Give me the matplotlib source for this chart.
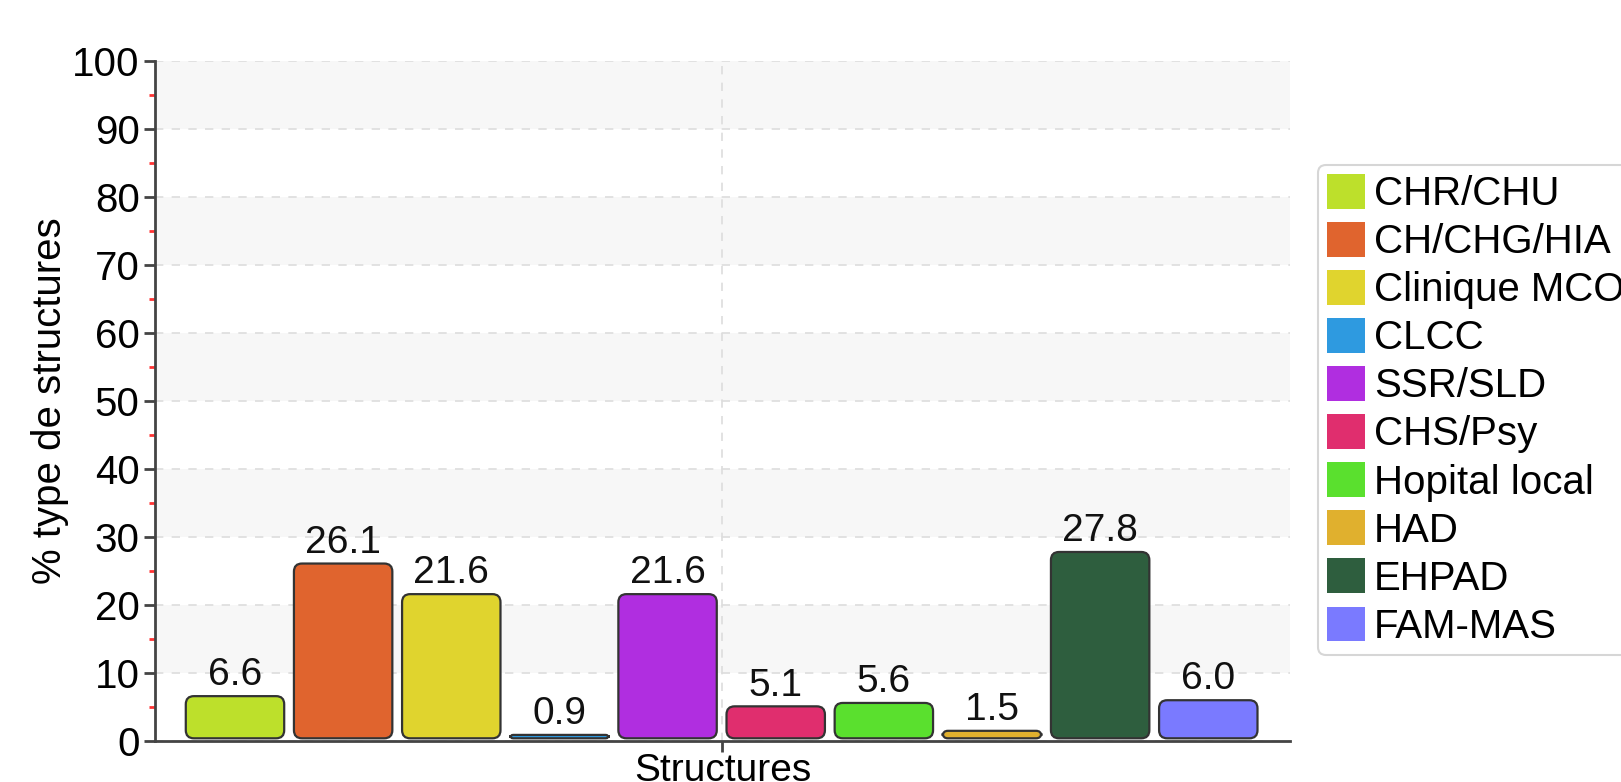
import numpy as np
import matplotlib
matplotlib.use("Agg")
import matplotlib.pyplot as plt
from matplotlib.patches import FancyBboxPatch, Patch
from matplotlib.ticker import MultipleLocator

categories = ["CHR/CHU", "CH/CHG/HIA", "Clinique MCO", "CLCC", "SSR/SLD",
              "CHS/Psy", "Hopital local", "HAD", "EHPAD", "FAM-MAS"]
values = [6.6, 26.1, 21.6, 0.9, 21.6, 5.1, 5.6, 1.5, 27.8, 6.0]
colors = ["#bde02b", "#e0642e", "#e0d42e", "#2e9ae0", "#b02ee0",
          "#e02e6e", "#5ae02e", "#e0b02e", "#2e5e3e", "#7a7aff"]

plt.rcParams['font.family'] = ['Liberation Sans', 'DejaVu Sans']

fig = plt.figure(figsize=(16.21, 7.82), dpi=100)
ax = fig.add_axes([0.0956, 0.0524, 0.7005, 0.8696])

ax.set_xlim(-0.74, 9.76)
ax.set_ylim(0, 100)

# bandes alternées
for lo in range(10, 100, 20):
    ax.axhspan(lo, lo + 10, color="#f7f7f7", zorder=0, lw=0)

ax.yaxis.set_major_locator(MultipleLocator(10))
ax.yaxis.set_minor_locator(MultipleLocator(5))
ax.set_xticks([4.5])
ax.set_xticklabels([])
ax.grid(True, which="major", color="#dddddd", ls=(0, (5, 5)), lw=1.2, zorder=1)

x = np.arange(len(values))
width = 0.93
bars = ax.bar(x, values, width=width, color=colors, alpha=0)

# coins arrondis : rapport px/unité entre x et y
fig.canvas.draw()
p0 = ax.transData.transform((0, 0))
p1 = ax.transData.transform((1, 1))
aspect = (p1[0] - p0[0]) / (p1[1] - p0[1])
for b, c in zip(bars, colors):
    bx, by, bw, bh = b.get_x(), b.get_y(), b.get_width(), b.get_height()
    r = min(0.075, bh / aspect / 2, bw / 2)
    patch = FancyBboxPatch((bx + 0.01, by + 0.4), bw - 0.02, max(bh - 0.4, 0.4),
                           boxstyle=f"round,pad=0,rounding_size={r}",
                           mutation_aspect=aspect, fc=c, ec="#333333",
                           lw=1.6, zorder=3)
    ax.add_patch(patch)
    ax.annotate(f"{b.get_height():.1f}", (bx + bw / 2, bh), xytext=(0, 2),
                textcoords="offset points", ha="center", va="bottom",
                fontsize=28, color="#111111", zorder=4)

for s in ["top", "right"]:
    ax.spines[s].set_visible(False)
for s in ["left", "bottom"]:
    ax.spines[s].set_color("#444444")
    ax.spines[s].set_linewidth(2)

ax.tick_params(axis="y", which="major", length=8, width=2, color="#444444",
               labelsize=29, pad=3)
ax.tick_params(axis="y", which="minor", length=4, width=2, color="#ff3333")
ax.tick_params(axis="x", which="major", length=8, width=2, color="#444444")

ax.set_ylabel("% type de structures", fontsize=29, labelpad=2)
ax.set_xlabel("Structures", fontsize=28, labelpad=-3)

handles = [Patch(facecolor=c, edgecolor="none") for c in colors]
leg = fig.legend(handles, categories, loc="upper left",
                 bbox_to_anchor=(0.813, 0.789), fontsize=29, frameon=True,
                 handlelength=0.95, handleheight=0.95, handletextpad=0.22,
                 labelspacing=0.22, borderpad=0.22, borderaxespad=0)
leg.get_frame().set_edgecolor("#cccccc")
leg.get_frame().set_linewidth(1.5)

fig.savefig("out.png", dpi=100)
